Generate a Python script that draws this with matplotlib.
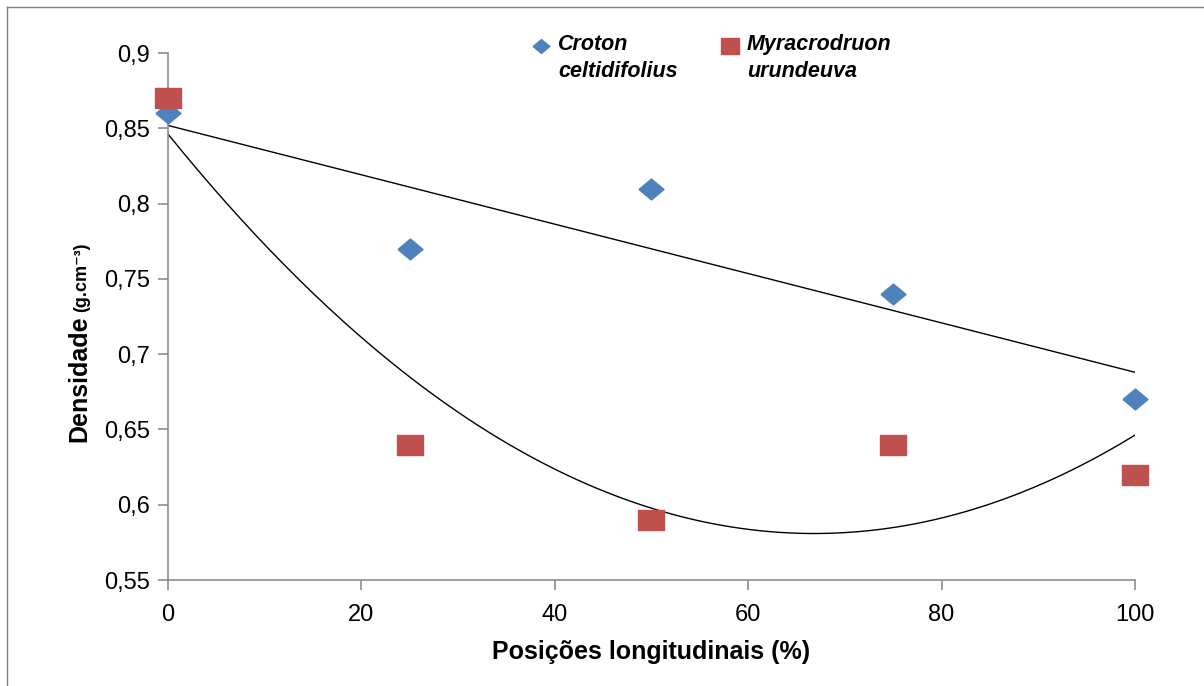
import numpy as np
import matplotlib
matplotlib.use("Agg")
import matplotlib.pyplot as plt
from matplotlib.lines import Line2D
from matplotlib.ticker import FuncFormatter

plt.rcParams['font.family'] = ['Liberation Sans', 'DejaVu Sans']

posicoes = [0, 25, 50, 75, 100]
croton = [0.86, 0.77, 0.81, 0.74, 0.67]
myracro = [0.87, 0.64, 0.59, 0.64, 0.62]
x_ticks = [0, 20, 40, 60, 80, 100]
y_ticks = [0.55, 0.6, 0.65, 0.7, 0.75, 0.8, 0.85, 0.9]
nomes = ['Croton\nceltidifolius', 'Myracrodruon\nurundeuva']

blue = '#4F81BD'
red = '#C0504D'
gray = '#8C8C8C'

# slightly wide markers like the Excel export
diamond = [(-1.2, 0), (0, -1), (1.2, 0), (0, 1), (-1.2, 0)]
rect = [(-1.2, -1), (1.2, -1), (1.2, 1), (-1.2, 1), (-1.2, -1)]

W, H = 1204, 686
fig = plt.figure(figsize=(W / 100, H / 100), dpi=100)
ax = fig.add_axes([0.1395, 0.1545, 0.8032, 0.768])

# trend lines: linear for Croton, 2nd order polynomial for Myracrodruon
xs = np.linspace(0, 100, 200)
lin = np.polyfit(posicoes, croton, 1)
quad = np.polyfit(posicoes, myracro, 2)
ax.plot(xs, np.polyval(lin, xs), color='black', lw=1.0, zorder=2)
ax.plot(xs, np.polyval(quad, xs), color='black', lw=1.0, zorder=2)

ax.plot(posicoes, croton, linestyle='none', marker=diamond, ms=18,
        color=blue, mec=blue, zorder=3, clip_on=False)
ax.plot(posicoes, myracro, linestyle='none', marker=rect, ms=18,
        color=red, mec=red, zorder=4, clip_on=False)

ax.set_xlim(0, 100)
ax.set_ylim(0.55, 0.9)
ax.set_xticks(x_ticks)
ax.set_yticks(y_ticks)
ax.yaxis.set_major_formatter(FuncFormatter(lambda v, p: ('%g' % round(v, 2)).replace('.', ',')))

for s in ['top', 'right']:
    ax.spines[s].set_visible(False)
for s in ['left', 'bottom']:
    ax.spines[s].set_color(gray)
    ax.spines[s].set_linewidth(1.2)
ax.tick_params(direction='out', length=7, width=1.2, color=gray,
               labelsize=17, labelcolor='black', pad=6)
ax.tick_params(axis='x', pad=10)

ax.set_xlabel('Posições longitudinais (%)', fontsize=18, fontweight='bold', labelpad=10)

# y label in two sizes
fig.text(0.066, 1 - 442 / H, 'Densidade', rotation=90, fontsize=18,
         fontweight='bold', ha='center', va='bottom')
fig.text(0.068, 1 - 312 / H, '(g.cm⁻³)', rotation=90, fontsize=13,
         fontweight='bold', ha='center', va='bottom')

# legend drawn by hand so the marker sits on the first text line
leg_pos = [(541, 46, diamond, 12, blue), (730, 46, rect, 13, red)]
for (px, py, mk, ms, col), nome in zip(leg_pos, nomes):
    fig.add_artist(Line2D([px / W], [1 - py / H], linestyle='none', marker=mk,
                          ms=ms, color=col))
    fig.text((px + 17) / W, 1 - 34 / H, nome, fontsize=15.5, style='italic',
             fontweight='bold', ha='left', va='top', linespacing=1.35)

# outer frame lines (top and left only are visible in the crop)
fig.add_artist(Line2D([0.006, 1.0], [0.99, 0.99], color='#7F7F7F', lw=1.0))
fig.add_artist(Line2D([0.006, 0.006], [0.0, 0.99], color='#7F7F7F', lw=1.0))

fig.savefig('out.png', dpi=100, facecolor='white')
